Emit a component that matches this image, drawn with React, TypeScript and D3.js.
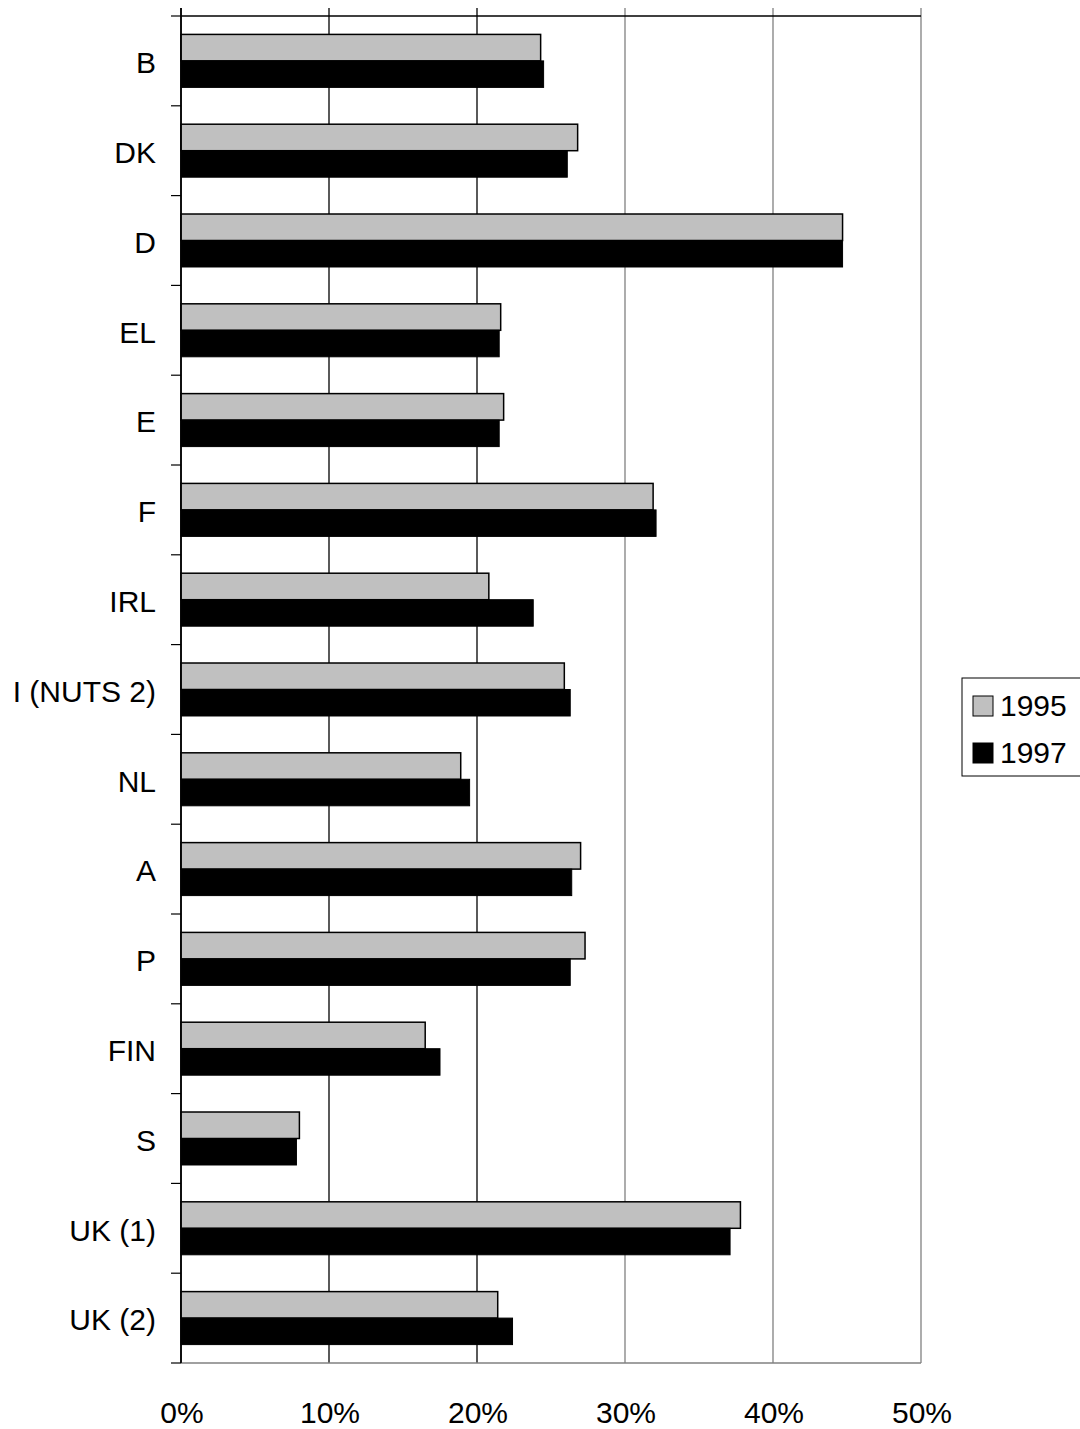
import React from "react";
import * as d3 from "d3";

const categories = ["B", "DK", "D", "EL", "E", "F", "IRL", "I (NUTS 2)", "NL", "A", "P", "FIN", "S", "UK (1)", "UK (2)"];
const series = ["1995", "1997"];
const values1995 = [24.3, 26.8, 44.7, 21.6, 21.8, 31.9, 20.8, 25.9, 18.9, 27.0, 27.3, 16.5, 8.0, 37.8, 21.4];
const values1997 = [24.5, 26.1, 44.7, 21.5, 21.5, 32.1, 23.8, 26.3, 19.5, 26.4, 26.3, 17.5, 7.8, 37.1, 22.4];
const xTicks = [0, 10, 20, 30, 40, 50];
const colors = ["#c0c0c0", "#000000"];

export default function App() {
  const W = 1080, H = 1429;
  const left = 181, right = 921, top = 16, bottom = 1363;
  const x = d3.scaleLinear().domain([0, 50]).range([left, right]);
  const y = d3.scaleBand<string>().domain(categories).range([top, bottom]).paddingInner(0.41).paddingOuter(0.205);
  const y1 = d3.scaleBand<string>().domain(series).range([0, y.bandwidth()]);
  const step = y.step();
  const data = [values1995, values1997];
  const font = "'Liberation Sans', Arial, sans-serif";
  const boundaries = d3.range(categories.length + 1).map(i => top + i * step);

  return (
    <svg width={W} height={H} style={{ position: "absolute", left: 0, top: 0, display: "block" }} fontFamily={font}>
      <rect x={0} y={0} width={W} height={H} fill="#fff" />
      {/* gridlines */}
      {xTicks.map(t => (
        <line key={"g" + t} x1={x(t)} x2={x(t)} y1={8} y2={bottom}
          stroke={t <= 20 ? "#000" : "#808080"} strokeWidth={t === 0 ? 1.5 : 1.3} />
      ))}
      {/* bottom line */}
      <line x1={left} x2={right} y1={bottom} y2={bottom} stroke="#808080" strokeWidth={1.5} />
      {/* top line */}
      <line x1={left} x2={right} y1={top} y2={top} stroke="#000" strokeWidth={1.5} />
      {/* left ticks */}
      {boundaries.map((b, i) => (
        <line key={"t" + i} x1={171} x2={left} y1={b} y2={b} stroke="#000" strokeWidth={1.2} />
      ))}
      {/* bars */}
      {categories.map((c, i) => (
        <g key={c} transform={`translate(0,${y(c)})`}>
          {series.map((s, j) => (
            <rect key={s} x={x(0)} y={y1(s)!} width={x(data[j][i]) - x(0)} height={y1.bandwidth()}
              fill={colors[j]} stroke="#000" strokeWidth={j === 0 ? 1.5 : 1} />
          ))}
        </g>
      ))}
      {/* left axis line */}
      <line x1={left} x2={left} y1={8} y2={bottom} stroke="#000" strokeWidth={1.5} />
      {/* category labels */}
      {categories.map(c => (
        <text key={"l" + c} x={156} y={(y(c) ?? 0) + y.bandwidth() / 2 + 12.3} textAnchor="end"
          fontSize={30} fill="#000">{c}</text>
      ))}
      {/* x tick labels */}
      {xTicks.map(t => (
        <text key={"x" + t} x={x(t) + 1} y={1423} textAnchor="middle" fontSize={30} fill="#000">{t + "%"}</text>
      ))}
      {/* legend */}
      <rect x={962} y={678} width={130} height={98} fill="#fff" stroke="#000" strokeWidth={1} />
      {series.map((s, j) => (
        <g key={"lg" + s} transform={`translate(973,${696 + j * 47})`}>
          <rect x={0} y={0} width={20} height={20} fill={colors[j]} stroke="#000" strokeWidth={1} />
          <text x={27} y={20} fontSize={30} fill="#000">{s}</text>
        </g>
      ))}
    </svg>
  );
}
